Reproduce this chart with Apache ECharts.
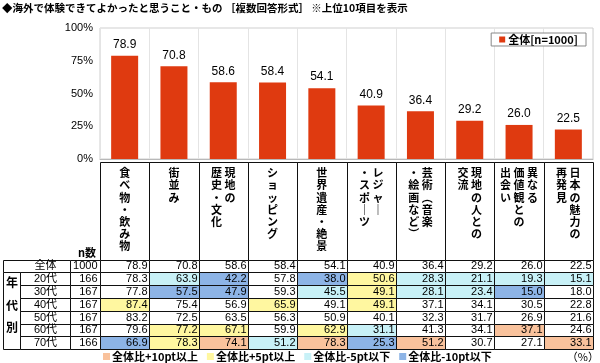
<!DOCTYPE html>
<html><head><meta charset="utf-8">
<script src="https://cdn.jsdelivr.net/npm/echarts@6/dist/echarts.min.js"></script>
<style>html,body{margin:0;padding:0;background:#fff}#c{width:600px;height:363px}</style>
</head><body><div id="c"></div>
<script>
// ---------- data ----------
const titleText = '◆海外で体験できてよかったと思うこと・もの ［複数回答形式］ ※上位10項目を表示';
const seriesName = '全体[n=1000]';
const categories = ['食べ物・飲み物','街並み','現地の歴史・文化','ショッピング','世界遺産・絶景','レジャー・スポーツ','芸術（音楽・絵画など）','現地の人との交流','異なる価値観との出会い','日本の魅力の再発見'];
const headerColumns = [['食べ物・飲み物'],['街並み'],['現地の','歴史・文化'],['ショッピング'],['世界遺産・絶景'],['レジャー','・スポーツ'],['芸術（音楽','・絵画など）'],['現地の人との','交流'],['異なる','価値観との','出会い'],['日本の魅力の','再発見']];
const overall = [78.9,70.8,58.6,58.4,54.1,40.9,36.4,29.2,26.0,22.5];
const age20 = [78.3,63.9,42.2,57.8,38.0,50.6,28.3,21.1,19.3,15.1];
const age30 = [77.8,57.5,47.9,59.3,45.5,49.1,28.1,23.4,15.0,18.0];
const age40 = [87.4,75.4,56.9,65.9,49.1,49.1,37.1,34.1,30.5,22.8];
const age50 = [83.2,72.5,63.5,56.3,50.9,40.1,32.3,31.7,26.9,21.6];
const age60 = [79.6,77.2,67.1,59.9,62.9,31.1,41.3,34.1,37.1,24.6];
const age70 = [66.9,78.3,74.1,51.2,78.3,25.3,51.2,30.7,27.1,33.1];
// highlight level: 2 = +10pt, 1 = +5pt, -1 = -5pt, -2 = -10pt
const markAll = [0,0,0,0,0,0,0,0,0,0];
const mark20 = [0,-1,-2,0,-2,1,-1,-1,-1,-1];
const mark30 = [0,-2,-2,0,-1,1,-1,-1,-2,0];
const mark40 = [1,0,0,1,0,1,0,0,0,0];
const mark50 = [0,0,0,0,0,0,0,0,0,0];
const mark60 = [0,1,1,0,1,-1,0,0,2,0];
const mark70 = [-2,1,2,-1,2,-2,2,0,0,2];
const rowLabels = ['全体','20代','30代','40代','50代','60代','70代'];
const nValues = [1000,166,167,167,167,167,166];
const groupLabel = '年代別';
const nHeader = 'n数';
const unitText = '（%）';
const markNames = ['全体比+10pt以上','全体比+5pt以上','全体比-5pt以下','全体比-10pt以下'];
const markLevels = [2,1,-1,-2];

// ---------- styles ----------
const BAR = '#DF3A10';
const markColor = {'2':'#F9C29C','1':'#FFF7A0','-1':'#C8F1F7','-2':'#8DB4E6','0':'#FFFFFF'};
const JP = "'Noto Sans CJK JP', sans-serif";
const NUM = "'Liberation Sans', 'Noto Sans CJK JP', sans-serif";

const tableRows = [overall, age20, age30, age40, age50, age60, age70];
const tableMarks = [markAll, mark20, mark30, mark40, mark50, mark60, mark70];

function vert(s){ return s.replace(/ー/g,'｜').replace(/（/g,'︵').replace(/）/g,'︶'); }
function verticalLabel(cols){
  const vc = cols.map(vert).map(s => Array.from(s));
  const n = Math.max(...vc.map(a => a.length));
  const lines = [];
  for (let i = 0; i < n; i++) {
    lines.push(vc.slice().reverse().map(a => a[i] || '　').join(' '));
  }
  return lines.join('\n');
}
const px = v => Math.round(v) + 0.5;

const cellData = [];
tableRows.forEach((row, r) => row.forEach((v, c) => cellData.push([c, r, v, tableMarks[r][c]])));

function renderCell(params, api){
  const c = api.value(0), r = api.value(1);
  const p = api.coord([c, r]);
  const s = api.size([1, 1]);
  const x0 = px(p[0] - s[0]/2), x1 = px(p[0] + s[0]/2);
  const y0 = px(p[1] - s[1]/2), y1 = px(p[1] + s[1]/2);
  return {type:'group', children:[
    {type:'rect', shape:{x:x0, y:y0, width:x1-x0, height:y1-y0}, style:{fill: markColor[String(api.value(3))], stroke:'#111', lineWidth:1}},
    {type:'text', style:{text: api.value(2).toFixed(1), x: x1 - 2, y: p[1] + 0.5, align:'right', verticalAlign:'middle', font:'11px ' + NUM, fill:'#000'}}
  ]};
}

function renderLeft(params, api){
  const cs = params.coordSys;
  const r = api.value(0);
  const p = api.coord([0, r]);
  const h = api.size([0, 1])[1];
  const y0 = px(p[1] - h/2), y1 = px(p[1] + h/2);
  const gx = px(cs.x);
  const xn = gx - 30, xl = gx - 80, xg = gx - 97;
  const lx = r === 0 ? xg : xl;
  const ch = [
    {type:'rect', shape:{x:lx, y:y0, width:xn-lx, height:y1-y0}, style:{fill:'#fff', stroke:'#111', lineWidth:1}},
    {type:'rect', shape:{x:xn, y:y0, width:gx-xn, height:y1-y0}, style:{fill:'#fff', stroke:'#111', lineWidth:1}},
    {type:'text', style:{text: rowLabels[r], x:(xl+xn)/2, y:p[1]+0.5, align:'center', verticalAlign:'middle', font:'11px ' + NUM, fill:'#000'}},
    {type:'text', style:{text: String(nValues[r]), x: gx - 3, y:p[1]+0.5, align:'right', verticalAlign:'middle', font:'11px ' + NUM, fill:'#000'}}
  ];
  if (r === 1) {
    const yb = px(cs.y + cs.height);
    ch.push({type:'rect', shape:{x:xg, y:y0, width:xl-xg, height:yb-y0}, style:{fill:'#fff', stroke:'#111', lineWidth:1}});
    ch.push({type:'text', style:{text: Array.from(groupLabel).join('\n'), x:(xg+xl)/2, y:(y0+yb)/2 - 6, align:'center', verticalAlign:'middle', font:'bold 12px ' + JP, lineHeight:22.5, fill:'#000'}});
  }
  return {type:'group', children: ch};
}

const TABLE_TOP = 259.5;
function renderHeader(params, api){
  const cs = params.coordSys;
  const p = api.coord([api.value(0), 0]);
  const w = api.size([1, 0])[0];
  const x0 = px(p[0] - w/2), x1 = px(p[0] + w/2);
  const yt = px(cs.y + cs.height + 3);
  return {type:'rect', shape:{x:x0, y:yt, width:x1-x0, height:px(TABLE_TOP)-yt}, style:{fill:'none', stroke:'#111', lineWidth:1}};
}

const chart = echarts.init(document.getElementById('c'), null, {renderer:'canvas'});
const option = {
  animation: false,
  backgroundColor: '#fff',
  title: [
    {text: titleText, left: 2, top: 3, padding: 0, textStyle:{fontSize: 10.5, fontWeight:'bold', fontFamily: JP, color:'#000'}},
    {text: nHeader, right: 504, top: 247, padding: 0, textStyle:{fontSize: 11, fontWeight:'bold', fontFamily: JP, color:'#000'}},
    {text: unitText, right: 1, top: 351, padding: 0, textStyle:{fontSize: 11, fontWeight:'normal', fontFamily: JP, color:'#000'}}
  ],
  legend: [
    {data:[seriesName], right: 14, top: 33, padding:[1,8], itemWidth:6, itemHeight:6, icon:'rect', selectedMode:false,
     borderColor:'#888', borderWidth:1, backgroundColor:'#fff', itemGap: 0,
     textStyle:{fontSize:11, fontWeight:'bold', fontFamily: JP, color:'#000', padding:[0,0,0,-2]}},
    {data: markNames, left: 103, top: 351, padding:0, itemWidth:7, itemHeight:7, icon:'rect', selectedMode:false, itemGap: 9,
     textStyle:{fontSize:11, fontWeight:'bold', fontFamily: JP, color:'#000', padding:[0,0,0,-3]}}
  ],
  grid: [
    {left: 100, right: 7, top: 28, height: 131, show: true, borderColor:'#cfcfcf', borderWidth:1, backgroundColor:'#fff'},
    {left: 100, right: 7, top: TABLE_TOP, height: 89.6}
  ],
  xAxis: [
    {type:'category', gridIndex:0, data: categories,
     axisLine:{show:true, lineStyle:{color:'#b8b8b8'}}, axisTick:{show:false},
     splitLine:{show:true, interval:0, lineStyle:{color:'#e4e4e4'}},
     axisLabel:{interval:0, margin:8, fontSize:11, fontWeight:'bold', fontFamily: JP, color:'#000', lineHeight:12.2,
       formatter:(v, i) => verticalLabel(headerColumns[i])}},
    {type:'category', gridIndex:1, data: categories, show:false}
  ],
  yAxis: [
    {type:'value', gridIndex:0, min:0, max:100, interval:25,
     axisLine:{show:false}, axisTick:{show:false}, splitLine:{show:false},
     axisLabel:{margin:7, fontSize:11, fontFamily: NUM, color:'#000', formatter:'{value}%'}},
    {type:'category', gridIndex:1, data: rowLabels, inverse:true, show:false}
  ],
  series: [
    {type:'custom', name:'header', xAxisIndex:0, yAxisIndex:0, renderItem: renderHeader,
     data: categories.map((c, i) => [i]), silent:true, clip:false, z:1},
    {type:'bar', name: seriesName, xAxisIndex:0, yAxisIndex:0, data: overall, barWidth: 27,
     itemStyle:{color: BAR},
     label:{show:true, position:'top', distance:5, fontSize:12, fontFamily: NUM, color:'#000', formatter: p => p.value.toFixed(1)}, z:3},
    {type:'custom', name:'cells', xAxisIndex:1, yAxisIndex:1, renderItem: renderCell, data: cellData, silent:true, clip:false, z:2},
    {type:'custom', name:'left', xAxisIndex:1, yAxisIndex:1, renderItem: renderLeft, data: rowLabels.map((l, i) => [i]), silent:true, clip:false, z:2},
    ...markNames.map((nm, k) => ({type:'bar', name: nm, xAxisIndex:1, yAxisIndex:1, data: [], itemStyle:{color: markColor[String(markLevels[k])]}}))
  ]
};
chart.setOption(option);
</script>
</body></html>
